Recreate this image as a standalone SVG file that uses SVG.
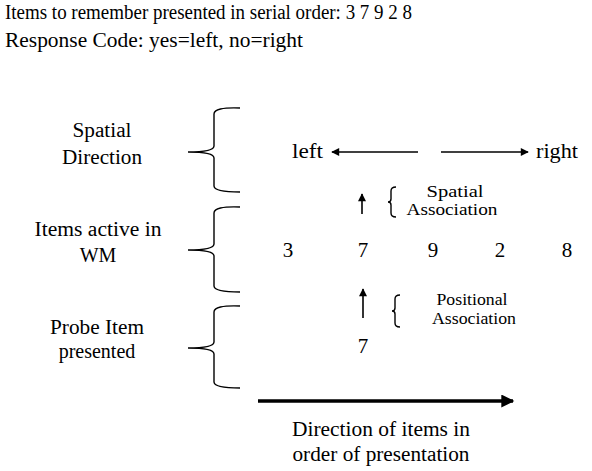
<svg xmlns="http://www.w3.org/2000/svg" width="592" height="471" viewBox="0 0 592 471">
  <style>
    text { font-family: "Liberation Serif", "DejaVu Serif", serif; fill: #000; }
    .t { font-size: 20px; }
    .lbl { font-size: 20px; text-anchor: middle; }
    .num { font-size: 21px; text-anchor: middle; }
    .small { font-size: 16px; text-anchor: middle; }
    .brace { fill: none; stroke: #000; stroke-width: 1.4; }
    .line { fill: none; stroke: #000; stroke-width: 1.6; }
  </style>
  <defs>
    <marker id="head" viewBox="0 0 10 10" refX="9" refY="5" markerWidth="9" markerHeight="8" markerUnits="userSpaceOnUse" orient="auto">
      <path d="M0,0 L10,5 L0,10 z" fill="#000"/>
    </marker>
    <marker id="headBig" viewBox="0 0 10 10" refX="9" refY="5" markerWidth="14" markerHeight="13" markerUnits="userSpaceOnUse" orient="auto">
      <path d="M0,0 L10,5 L0,10 z" fill="#000"/>
    </marker>
  </defs>

  <g id="header">
    <text class="t" x="5" y="19" textLength="407" lengthAdjust="spacingAndGlyphs">Items to remember presented in serial order: 3 7 9 2 8</text>
    <text class="t" x="5" y="47" textLength="298" lengthAdjust="spacingAndGlyphs">Response Code: yes=left, no=right</text>
  </g>

  <g id="spatial-direction">
    <text class="lbl" x="102" y="137" textLength="59" lengthAdjust="spacingAndGlyphs">Spatial</text>
    <text class="lbl" x="102" y="164" textLength="80" lengthAdjust="spacingAndGlyphs">Direction</text>
    <path class="brace" d="M240,108 Q214,107 214,114 L214,146 Q214,152 188,152 Q214,152 214,158 L214,186 Q214,192 240,192"/>
  </g>

  <g id="items-active">
    <text class="lbl" x="98" y="236" textLength="127" lengthAdjust="spacingAndGlyphs">Items active in</text>
    <text class="lbl" x="98" y="262">WM</text>
    <path class="brace" d="M240,207 Q214,206 214,213 L214,244 Q214,250 188,250 Q214,250 214,256 L214,286 Q214,292 240,292"/>
  </g>

  <g id="probe-item">
    <text class="lbl" x="97" y="334" textLength="94" lengthAdjust="spacingAndGlyphs">Probe Item</text>
    <text class="lbl" x="97" y="358">presented</text>
    <path class="brace" d="M240,306 Q214,305 214,312 L214,342 Q214,348 188,348 Q214,348 214,354 L214,382 Q214,388 240,388"/>
  </g>

  <g id="left-node">
    <text class="t" x="292" y="158" textLength="31" lengthAdjust="spacingAndGlyphs">left</text>
  </g>
  <g id="right-node">
    <text class="t" x="536" y="158" textLength="42" lengthAdjust="spacingAndGlyphs">right</text>
  </g>

  <g id="wm-items">
    <text class="num" x="288" y="257">3</text>
    <text class="num" x="363" y="257">7</text>
    <text class="num" x="433" y="257">9</text>
    <text class="num" x="500" y="257">2</text>
    <text class="num" x="567" y="257">8</text>
  </g>

  <g id="spatial-association">
    <path class="brace" d="M396,187 Q391,187 391,191 L391,199 Q391,202 388,202 Q391,202 391,205 L391,213 Q391,217 396,217"/>
    <text class="small" x="455" y="197" textLength="57" lengthAdjust="spacingAndGlyphs">Spatial</text>
    <text class="small" x="452" y="215" textLength="91" lengthAdjust="spacingAndGlyphs">Association</text>
  </g>

  <g id="positional-association">
    <path class="brace" d="M400,295 Q395,295 395,299 L395,308 Q395,311 392,311 Q395,311 395,314 L395,323 Q395,327 400,327"/>
    <text class="small" x="472" y="305" textLength="71" lengthAdjust="spacingAndGlyphs">Positional</text>
    <text class="small" x="474" y="324" textLength="84" lengthAdjust="spacingAndGlyphs">Association</text>
  </g>

  <g id="probe">
    <text class="num" x="363" y="353">7</text>
  </g>

  <g id="order-label">
    <text class="lbl" x="381" y="436" textLength="178" lengthAdjust="spacingAndGlyphs">Direction of items in</text>
    <text class="lbl" x="381" y="461" textLength="177" lengthAdjust="spacingAndGlyphs">order of presentation</text>
  </g>

  <g id="connectors">
    <line class="line" x1="418" y1="152" x2="332" y2="152" marker-end="url(#head)"/>
    <line class="line" x1="441" y1="152" x2="528" y2="152" marker-end="url(#head)"/>
    <line class="line" x1="362" y1="214" x2="362" y2="194" marker-end="url(#head)"/>
    <line class="line" x1="363" y1="318" x2="363" y2="289" marker-end="url(#head)"/>
    <line x1="258" y1="401" x2="513" y2="401" stroke="#000" stroke-width="3.5" marker-end="url(#headBig)"/>
  </g>
</svg>
